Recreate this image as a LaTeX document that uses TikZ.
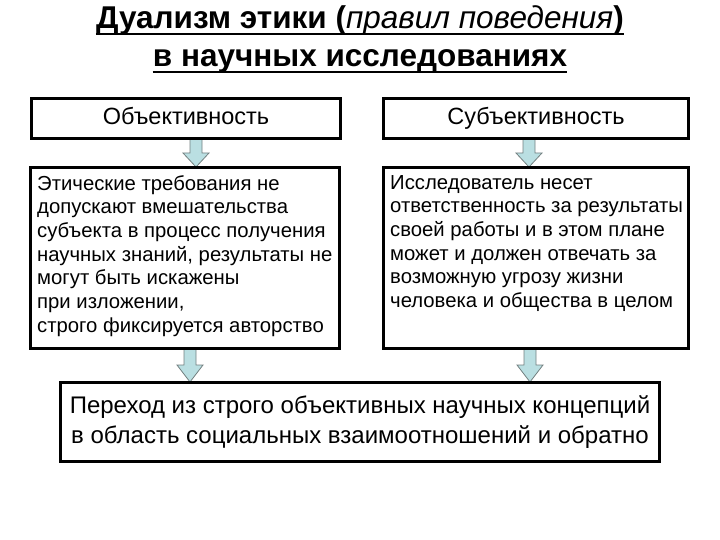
\documentclass[tikz,border=0pt]{standalone}
\usepackage{fontspec}
\setmainfont{Liberation Sans}

\definecolor{arrfill}{RGB}{186,223,226}
\definecolor{arrline}{RGB}{115,128,128}

\tikzset{
	frame/.style={draw=black, fill=white, line width=3pt, inner sep=0pt},
	blockarr/.style={draw=arrline, fill=arrfill, line width=0.8pt, line join=miter},
	txt/.style={align=left, anchor=north west, inner sep=0pt, font=\fontsize{20.3}{23.7}\selectfont},
	ttl/.style={inner sep=0pt, font=\fontsize{31.5}{36}\selectfont\bfseries},
	uline/.style={line width=2pt}
}
% block arrow pointing down: x, top y, tip y, head length
\newcommand{\blockdown}[4]{\draw[blockarr] (#1-6,#2) -- (#1+6,#2) -- (#1+6,#3-#4) -- (#1+13,#3-#4) -- (#1,#3) -- (#1-13,#3-#4) -- (#1-6,#3-#4) -- cycle;}

\begin{document}
\begin{tikzpicture}[x=1pt, y=-1pt]
	\useasboundingbox (0,0) rectangle (720,540);

	% title
	\node at (360,20) [ttl] (t1) {Дуализм этики (\textit{\mdseries правил поведения})};
	\node at (360,61) [ttl] (t2) {в научных исследованиях};
	\draw[uline] ([yshift=-6pt]t1.base west) -- ([yshift=-6pt]t1.base east);
	\draw[uline] ([yshift=-6pt]t2.base west) -- ([yshift=-6pt]t2.base east);

	% arrows (drawn first so the boxes cover their ends)
	\blockdown{196}{137}{167}{14}
	\blockdown{529}{137}{167}{14}
	\blockdown{190}{346}{382}{17}
	\blockdown{530}{346}{382}{17}

	% boxes
	\node at (186,119) [frame, minimum width=309pt, minimum height=40pt, text height=17pt, text depth=5pt, font=\fontsize{23.5}{26}\selectfont] (obj) {Объективность};
	\node at (536,119) [frame, minimum width=305pt, minimum height=40pt, text height=17pt, text depth=5pt, font=\fontsize{23.5}{26}\selectfont] (subj) {Субъективность};
	\node at (185,258) [frame, minimum width=309pt, minimum height=180pt] (objtxt) {};
	\node at (536,258) [frame, minimum width=305pt, minimum height=180pt] (subjtxt) {};
	\node at (360,422) [frame, minimum width=599pt, minimum height=79pt, align=center, font=\fontsize{24}{30}\selectfont] (res) {Переход из строго объективных научных концепций\\в область социальных взаимоотношений и обратно};

	\node at (37,175) [txt] (objlines) {Этические требования не\\допускают вмешательства\\субъекта в процесс получения\\научных знаний, результаты не\\могут быть искажены\\при изложении,\\строго фиксируется авторство};
	\node at (390,175) [txt] (subjlines) {Исследователь несет\\ответственность за результаты\\своей работы и в этом плане\\может и должен отвечать за\\возможную угрозу жизни\\человека и общества в целом};
\end{tikzpicture}
\end{document}
